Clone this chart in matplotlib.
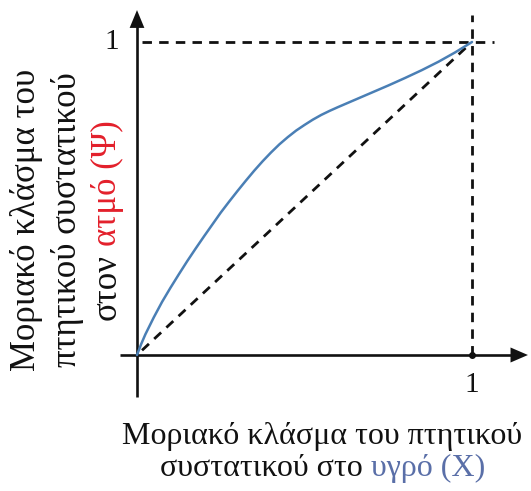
import matplotlib
matplotlib.use("Agg")
import matplotlib.pyplot as plt
from matplotlib.patches import Polygon
from matplotlib.transforms import IdentityTransform

# Vapour-liquid equilibrium curve of the volatile component
x_liquid = [0.0, 0.0125, 0.025, 0.05, 0.075, 0.10, 0.125, 0.15, 0.175, 0.20,
            0.225, 0.25, 0.275, 0.30, 0.325, 0.35, 0.375, 0.40, 0.425, 0.45,
            0.475, 0.50, 0.525, 0.55, 0.575, 0.60, 0.65, 0.70, 0.75, 0.80,
            0.85, 0.90, 0.95, 1.0]
y_vapour = [0.0, 0.035, 0.066, 0.12, 0.17, 0.215, 0.258, 0.30, 0.34, 0.379,
            0.417, 0.455, 0.49, 0.524, 0.557, 0.589, 0.619, 0.647, 0.673, 0.696,
            0.717, 0.735, 0.752, 0.767, 0.78, 0.792, 0.815, 0.838, 0.861, 0.885,
            0.91, 0.937, 0.967, 1.0]
tick_value = 1.0
tick_label = "1"

FONT = "Liberation Serif"
TICK_SIZE = 21
XLAB_SIZE = 23
YLAB_SIZE = 25
CURVE = "#4a7fb5"
RED = "#e3202b"
BLUE = "#5a6fa8"
INK = "#111111"

W, H = 531, 491
fig = plt.figure(figsize=(W / 100, H / 100), dpi=100)
ax = fig.add_axes([0, 0, 1, 1])
# origin sits at pixel (137, 355), unit length 335 px across and 313 px up
ax.set_xlim(-137 / 335, (W - 137) / 335)
ax.set_ylim((355 - H) / 313, 355 / 313)
ax.axis("off")

# axes with arrowheads
ax.plot([0, 0], [-0.134, 1.05], color=INK, lw=1.9, solid_capstyle="butt")
ax.plot([-0.05, 1.12], [0, 0], color=INK, lw=1.9, solid_capstyle="butt")
ax.add_patch(Polygon([[0, 1.102], [-0.022, 1.045], [0.022, 1.045]],
                     closed=True, color=INK, lw=0))
ax.add_patch(Polygon([[1.167, 0], [1.115, 0.024], [1.115, -0.024]],
                     closed=True, color=INK, lw=0))

dash = (0, (3.4, 2.6))
# guide lines at x = 1 and y = 1, and the diagonal y = x
ax.plot([0.015, 1.066], [tick_value, tick_value], color=INK, lw=2.0, ls=dash)
ax.plot([tick_value, tick_value], [0, 1.086], color=INK, lw=2.0, ls=dash)
ax.plot([0.015, 0.99], [0.015, 0.99], color=INK, lw=2.0, ls=dash)

# equilibrium curve
ax.plot(x_liquid, y_vapour, color=CURVE, lw=1.8, solid_capstyle="round",
        solid_joinstyle="round")
ax.plot([tick_value], [0], "o", color=INK, ms=4)

# tick labels
ax.text(-0.075, tick_value, tick_label, family=FONT, fontsize=TICK_SIZE,
        ha="center", va="center", color=INK)
ax.text(tick_value, -0.095, tick_label, family=FONT, fontsize=TICK_SIZE,
        ha="center", va="center", color=INK)

renderer = fig.canvas.get_renderer()
px = IdentityTransform()


def text_width(s, size):
    t = fig.text(0, 0, s, family=FONT, fontsize=size, transform=px)
    w = t.get_window_extent(renderer).width
    t.remove()
    return w


def coloured_line(segments, centre, baseline, size, vertical=False):
    """Draw text made of (string, colour) pieces, centred along its run."""
    space = text_width("a a", size) - text_width("aa", size)
    widths = [text_width(s, size) for s, _ in segments]
    total = sum(widths) + space * (len(segments) - 1)
    pos = centre - total / 2
    for (s, c), w in zip(segments, widths):
        if vertical:
            fig.text(baseline, pos, s, family=FONT, fontsize=size, color=c,
                     transform=px, rotation=90, rotation_mode="anchor",
                     ha="left", va="baseline")
        else:
            fig.text(pos, baseline, s, family=FONT, fontsize=size, color=c,
                     transform=px, ha="left", va="baseline")
        pos += w + space


# x-axis title (pixel y measured from the bottom)
coloured_line([("Μοριακό κλάσμα του πτητικού", INK)], 322, H - 444, XLAB_SIZE)
coloured_line([("συστατικού στο", INK), ("υγρό (X)", BLUE)], 323, H - 476,
              XLAB_SIZE)

# y-axis title, read bottom to top
ycentre = H - 220
coloured_line([("Μοριακό κλάσμα του", INK)], ycentre, 35, YLAB_SIZE,
              vertical=True)
coloured_line([("πτητικού συστατικού", INK)], ycentre, 76, YLAB_SIZE,
              vertical=True)
coloured_line([("στον", INK), ("ατμό (Ψ)", RED)], ycentre, 116, YLAB_SIZE,
              vertical=True)

fig.savefig("out.png", dpi=100)
